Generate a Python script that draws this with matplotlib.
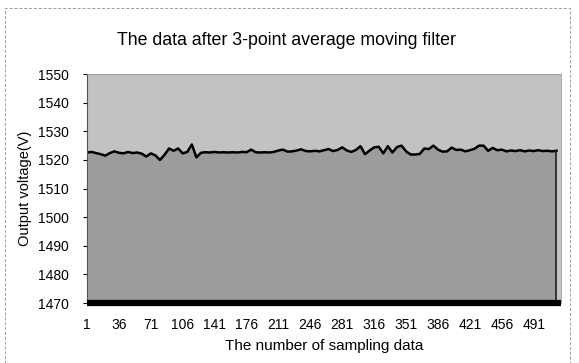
import matplotlib
matplotlib.use("Agg")
import matplotlib.pyplot as plt
import numpy as np
from matplotlib.patches import Rectangle

# ----------------- donnees ----------------- #
# un point lu tous les 5 echantillons (1, 6, 11, ... 516)
sample_idx = list(range(1, 517, 5))
voltage = [
    1522.6, 1522.8, 1522.4, 1522.0, 1521.5, 1522.4, 1523.0, 1522.5, 1522.3, 1522.8,
    1522.4, 1522.6, 1522.2, 1521.2, 1522.3, 1521.6, 1520.0, 1521.8, 1524.0, 1523.2,
    1524.0, 1522.3, 1522.8, 1525.4, 1520.9, 1522.5, 1522.7, 1522.6, 1522.8, 1522.6,
    1522.7, 1522.6, 1522.7, 1522.6, 1522.8, 1522.7, 1523.6, 1522.7, 1522.6, 1522.7,
    1522.6, 1522.8, 1523.3, 1523.6, 1522.9, 1523.0, 1523.3, 1523.7, 1523.1, 1523.0,
    1523.2, 1523.0, 1523.4, 1523.8, 1523.1, 1523.5, 1524.4, 1523.3, 1522.8, 1523.5,
    1524.8, 1522.0, 1523.3, 1524.4, 1524.6, 1522.3, 1524.8, 1522.6, 1524.5, 1525.0,
    1523.0, 1521.9, 1521.9, 1522.1, 1524.0, 1523.8, 1525.0, 1523.6, 1522.9, 1523.0,
    1524.3, 1523.5, 1523.6, 1523.0, 1523.4, 1523.9, 1525.0, 1525.0, 1523.2, 1524.2,
    1523.4, 1523.6, 1523.0, 1523.3, 1523.1, 1523.4, 1523.0, 1523.3, 1523.1, 1523.4,
    1523.1, 1523.2, 1523.0, 1523.2,
]

x_ticks = [1, 36, 71, 106, 141, 176, 211, 246, 281, 316, 351, 386, 421, 456, 491]
y_ticks = [1470, 1480, 1490, 1500, 1510, 1520, 1530, 1540, 1550]

titre = "The data after 3-point average moving filter"
x_titre = "The number of sampling data"
y_titre = "Output voltage(V)"

# ----------------- graphique ----------------- #
plt.rcParams['font.family'] = ['Liberation Sans', 'DejaVu Sans']

fig = plt.figure(figsize=(5.79, 3.63), dpi=100)
ax = fig.add_axes([0.1503, 0.165, 0.8187, 0.631])

ax.set_facecolor('#c2c2c2')
ax.fill_between(sample_idx, voltage, y_ticks[0], color='#9c9c9c', linewidth=0)
ax.plot(sample_idx, voltage, color='black', linewidth=1.8)
ax.vlines(sample_idx[-1], y_ticks[0], voltage[-1], color='#222222', linewidth=1.2)

ax.set_xlim(1, 521)
ax.set_ylim(y_ticks[0], y_ticks[-1])
ax.set_xticks(x_ticks)
ax.set_yticks(y_ticks)
ax.tick_params(axis='x', length=0, pad=11, labelsize=10)
ax.tick_params(axis='y', length=3, width=0.8, pad=10, labelsize=10)

for cote in ['top', 'right']:
    ax.spines[cote].set_color('#9a9a9a')
    ax.spines[cote].set_linewidth(0.6)
ax.spines['left'].set_color('#555555')
ax.spines['left'].set_linewidth(0.8)
ax.spines['bottom'].set_color('black')
ax.spines['bottom'].set_linewidth(4.5)
ax.spines['bottom'].set_capstyle('butt')

ax.set_xlabel(x_titre, fontsize=11, labelpad=5)
ax.set_ylabel(y_titre, fontsize=10.5, labelpad=4)
fig.text(0.495, 0.888, titre, ha='center', va='center', fontsize=12.8)

# cadre pointille du graphique
fig.patches.append(Rectangle((0.009, -0.05), 0.975, 1.027, transform=fig.transFigure,
                             fill=False, edgecolor='#9a9a9a', linewidth=0.7,
                             linestyle=(0, (3, 2))))

fig.savefig("out.png", dpi=100)
